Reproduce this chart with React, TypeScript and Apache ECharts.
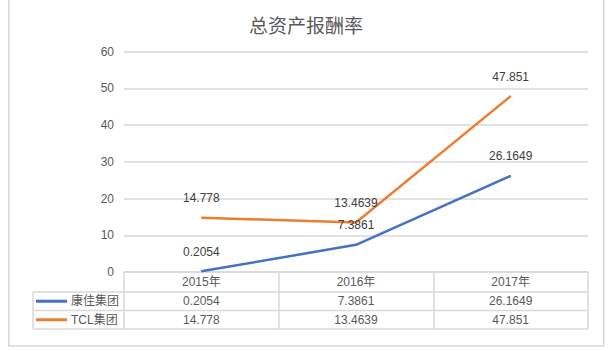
import React, { useEffect, useRef } from "react";
import * as echarts from "echarts";

const title = "总资产报酬率";
const categories = ["2015年", "2016年", "2017年"];
const seriesNames = ["康佳集团", "TCL集团"];
const kongkaValues = [0.2054, 7.3861, 26.1649];
const tclValues = [14.778, 13.4639, 47.851];
const yTicks = { min: 0, max: 60, interval: 10 };
const colors = ["#4472C4", "#ED7D31"];

const W = 612;
const H = 351;
const GRID_LEFT = 124;
const GRID_RIGHT = 588;
const GRID_TOP = 51.5;
const GRID_BOTTOM = 272;
const ROW_Y = [272, 292, 310.5, 329];
const LEGEND_LEFT = 33;
const FONT = "'Liberation Sans', 'Noto Sans CJK SC', sans-serif";
const GRAY = "#D9D9D9";
const TEXT = "#595959";

export default function App() {
  const ref = useRef<HTMLDivElement>(null);
  useEffect(() => {
    if (!ref.current) return;
    const chart = echarts.init(ref.current, null, { renderer: "svg" });
    const allSeries = [kongkaValues, tclValues];
    chart.setOption({
      animation: false,
      textStyle: { fontFamily: FONT },
      title: {
        text: title,
        left: "center",
        top: 10,
        textStyle: { fontSize: 19, fontWeight: "normal", color: TEXT, fontFamily: "'Noto Sans CJK SC', sans-serif" },
      },
      grid: {
        left: GRID_LEFT,
        right: W - GRID_RIGHT,
        top: GRID_TOP,
        bottom: H - GRID_BOTTOM,
        containLabel: false,
      },
      xAxis: {
        type: "category",
        data: categories,
        boundaryGap: true,
        axisLine: { show: true, lineStyle: { color: GRAY, width: 1.5 } },
        axisTick: { show: true, length: ROW_Y[3] - ROW_Y[0], lineStyle: { color: GRAY, width: 1.5 } },
        axisLabel: { show: true, margin: 4, fontSize: 12, color: TEXT, fontFamily: FONT },
      },
      yAxis: {
        type: "value",
        min: yTicks.min,
        max: yTicks.max,
        interval: yTicks.interval,
        axisLine: { show: false },
        axisTick: { show: false },
        axisLabel: { fontSize: 12, color: TEXT, margin: 10, fontFamily: FONT },
        splitLine: { lineStyle: { color: GRAY, width: 1.6 } },
      },
      series: seriesNames.map((name, i) => ({
        name,
        type: "line",
        data: allSeries[i],
        symbol: "circle",
        symbolSize: 1,
        itemStyle: { color: colors[i] },
        lineStyle: { color: colors[i], width: 2.5 },
        label: {
          show: true,
          position: "top",
          distance: 13,
          fontSize: 12,
          color: "#404040",
          fontFamily: FONT,
        },
      })),
    });

    const graphics: any[] = [];
    // outer border
    graphics.push({
      type: "rect",
      shape: { x: 8.75, y: -3, width: 595, height: 349 },
      style: { fill: "none", stroke: GRAY, lineWidth: 1.5 },
      silent: true,
    });
    // table horizontal lines
    for (let r = 1; r < ROW_Y.length; r++) {
      graphics.push({
        type: "line",
        shape: { x1: LEGEND_LEFT, y1: ROW_Y[r], x2: GRID_RIGHT, y2: ROW_Y[r] },
        style: { stroke: GRAY, lineWidth: 1.5 },
        silent: true,
      });
    }
    graphics.push({
      type: "line",
      shape: { x1: LEGEND_LEFT, y1: ROW_Y[1], x2: LEGEND_LEFT, y2: ROW_Y[3] },
      style: { stroke: GRAY, lineWidth: 1.5 },
      silent: true,
    });
    // legend entries and values
    seriesNames.forEach((name, i) => {
      const cy = (ROW_Y[i + 1] + ROW_Y[i + 2]) / 2;
      graphics.push({
        type: "line",
        shape: { x1: 36, y1: cy, x2: 67, y2: cy },
        style: { stroke: colors[i], lineWidth: 3 },
        silent: true,
      });
      graphics.push({
        type: "text",
        x: 71,
        y: cy,
        style: {
          text: name,
          fill: TEXT,
          font: `12px ${FONT}`,
          textAlign: "left",
          textVerticalAlign: "middle",
        },
        silent: true,
      });
      allSeries[i].forEach((v, j) => {
        const px = chart.convertToPixel({ xAxisIndex: 0 }, j) as number;
        graphics.push({
          type: "text",
          x: px,
          y: cy,
          style: {
            text: String(v),
            fill: TEXT,
            font: `12px ${FONT}`,
            textAlign: "center",
            textVerticalAlign: "middle",
          },
          silent: true,
        });
      });
    });
    chart.setOption({ graphic: graphics });
    return () => chart.dispose();
  }, []);
  return (
    <div
      ref={ref}
      style={{ position: "fixed", left: 0, top: 0, width: W, height: H, background: "#fff" }}
    />
  );
}
